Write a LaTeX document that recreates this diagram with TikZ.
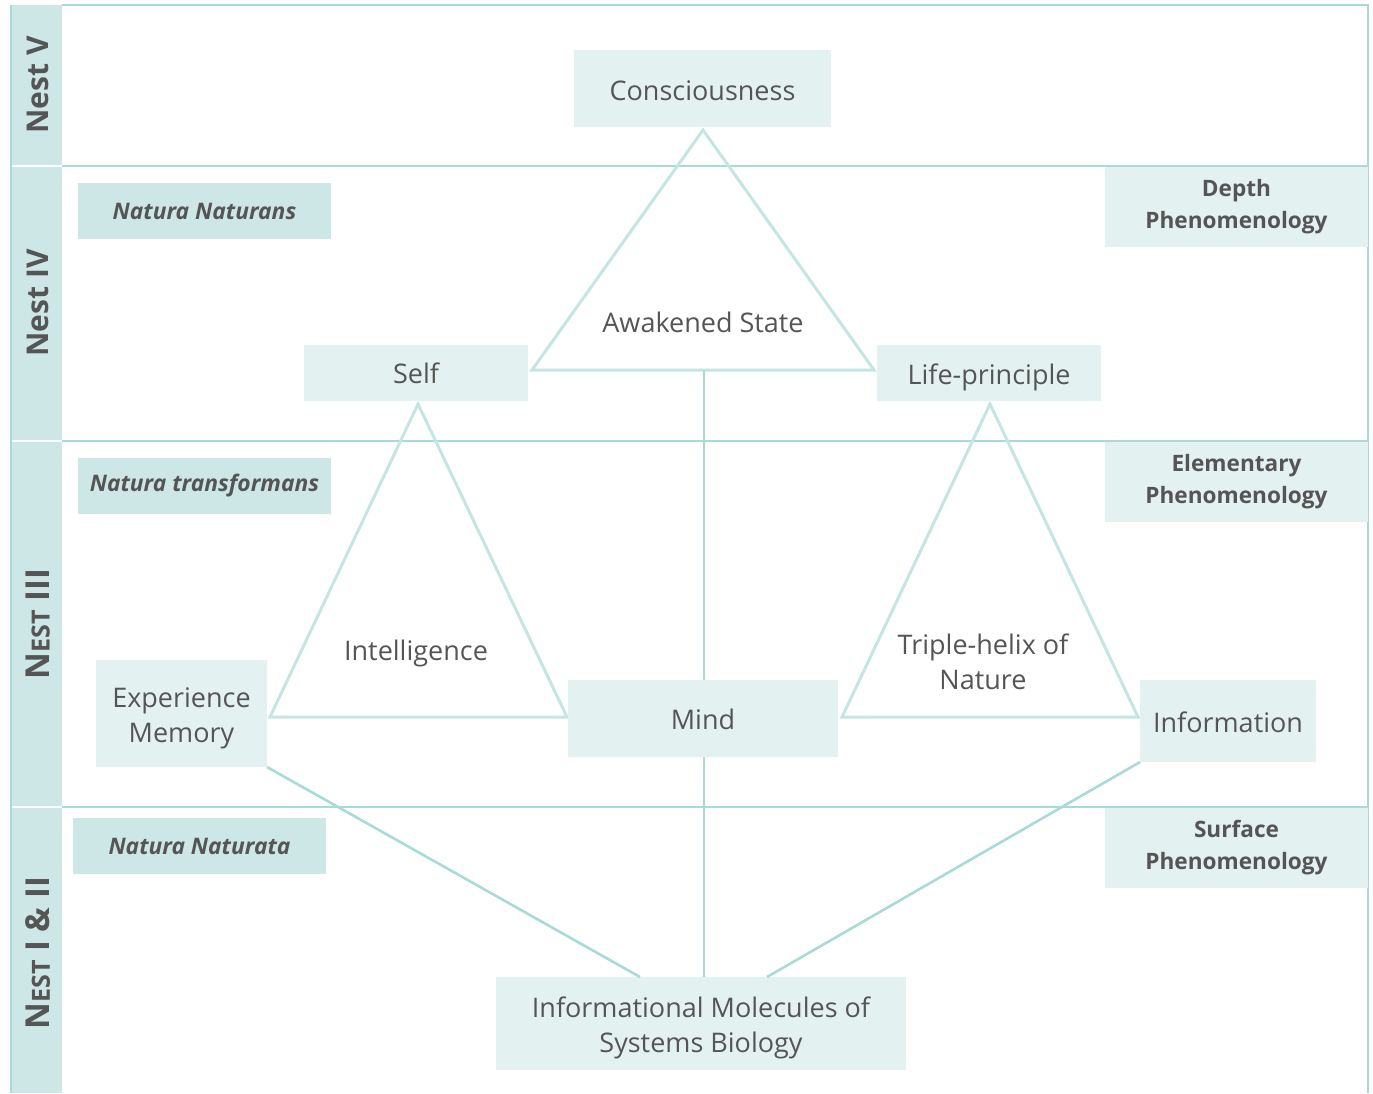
\documentclass[tikz,border=0pt]{standalone}
\usepackage{fontspec}
\setmainfont{Open Sans}
\begin{document}
\begin{tikzpicture}[x=1pt,y=-1pt,
  every node/.style={inner sep=0pt, outer sep=0pt},
  conn/.style={draw=linec, line width=2.6pt},
  tri/.style={draw=tric, line width=3pt, line join=miter},
  sep/.style={draw=linec, line width=1.3pt},
  box/.style={fill=boxl},
  tag/.style={fill=boxd, text=txt, font=\fontsize{22.8}{28}\selectfont\bfseries\itshape},
  phen/.style={fill=boxl, text=txt, font=\fontsize{22.6}{32}\selectfont\bfseries, align=center},
  nest/.style={text=txt, font=\fontsize{30}{36}\selectfont\bfseries, rotate=90},
  nestsc/.style={text=txt, font=\fontsize{33}{36}\selectfont\bfseries, rotate=90},
  lbl/.style={text=txt, font=\fontsize{27}{35}\selectfont, align=center}]
\definecolor{linec}{HTML}{A9DBD6}
\definecolor{tric}{HTML}{C3E6E2}
\definecolor{boxl}{HTML}{E3F2F1}
\definecolor{boxd}{HTML}{CCE7E6}
\definecolor{txt}{HTML}{555555}
\definecolor{side}{HTML}{CCE7E6}
\useasboundingbox (0,0) rectangle (1373,1093);
% left column
\fill[side] (11,5) rectangle (62,1093);
\draw[white, line width=1.5pt] (11,166) -- (62,166) (11,441) -- (62,441) (11,807) -- (62,807);
% outer frame
\draw[sep] (62,5) -- (1368,5) -- (1368,1093);
\draw[sep] (11,5) -- (11,1093);
\draw[sep] (62,166) -- (1368,166) (62,441) -- (1368,441) (62,807) -- (1368,807);
% nest labels
\node[nest] (n5) at (38,85) {Nest V};
\node[nest] (n4) at (38,303) {Nest IV};
\node[nestsc] (n3) at (38,624) {N{\fontsize{25}{28}\selectfont EST} III};
\node[nestsc] (n12) at (38,953) {N{\fontsize{25}{28}\selectfont EST} I \& II};
% tags
\node[tag, minimum width=253pt, minimum height=56pt] (nn) at (204.5,211) {Natura Naturans};
\node[tag, minimum width=253pt, minimum height=56pt] (nt) at (204.5,486) {Natura transformans};
\node[tag, minimum width=253pt, minimum height=56pt] (nd) at (199.5,846) {Natura Naturata};
\node[phen, minimum width=263pt, minimum height=80pt] (dp) at (1236.5,207) {Depth\\Phenomenology};
\node[phen, minimum width=263pt, minimum height=80pt] (ep) at (1236.5,482) {Elementary\\Phenomenology};
\node[phen, minimum width=263pt, minimum height=80pt] (sp) at (1236.5,848) {Surface\\Phenomenology};
% triangle coordinates
\coordinate (ta) at (703,130);
\coordinate (tl) at (532,370);
\coordinate (tr) at (874,370);
\coordinate (la) at (418,404);
\coordinate (ll) at (270,717);
\coordinate (lr) at (567,717);
\coordinate (ra) at (990,404);
\coordinate (rl) at (842,717);
\coordinate (rr) at (1138,717);
\draw[tri] (ta) -- (tl) -- (tr) -- cycle;
\draw[tri] (la) -- (ll) -- (lr) -- cycle;
\draw[tri] (ra) -- (rl) -- (rr) -- cycle;
\node[lbl] (aw) at (703,322) {Awakened State};
\node[lbl] (in) at (416,653) {Intelligence};
\node[lbl] (th) at (983,662) {Triple-helix of\\Nature};
% boxes
\node[box, minimum width=257pt, minimum height=77pt] (co) at (702.5,88.5) {};
\node[box, minimum width=224pt, minimum height=56pt] (self) at (416,373) {};
\node[box, minimum width=224pt, minimum height=56pt] (life) at (989,373) {};
\node[box, minimum width=171pt, minimum height=107pt] (exp) at (181.5,713.5) {};
\node[box, minimum width=270pt, minimum height=77pt] (mind) at (703,718.5) {};
\node[box, minimum width=176pt, minimum height=82pt] (info) at (1228,721) {};
\node[box, minimum width=410pt, minimum height=93pt] (mol) at (701,1023.5) {};
% box texts
\node[lbl] (co-t) at (702.5,91) {Consciousness};
\node[lbl] (self-t) at (416,373) {Self};
\node[lbl] (life-t) at (989,377) {Life-principle};
\node[lbl] (exp-t) at (181.5,718) {Experience\\Memory};
\node[lbl] (mind-t) at (703,719.5) {Mind};
\node[lbl] (info-t) at (1228,722) {Information};
\node[lbl] (mol-t) at (701,1028) {Informational Molecules of\\Systems Biology};
% connectors
\coordinate (vt) at (704,370);
\draw[conn] (vt) -- (mind.north -| vt);
\draw[conn] (mind.south -| vt) -- (mol.north -| vt);
\draw[conn] (exp.south east) -- (640,977);
\draw[conn] (info.south west) -- (767,977);
\end{tikzpicture}
\end{document}
